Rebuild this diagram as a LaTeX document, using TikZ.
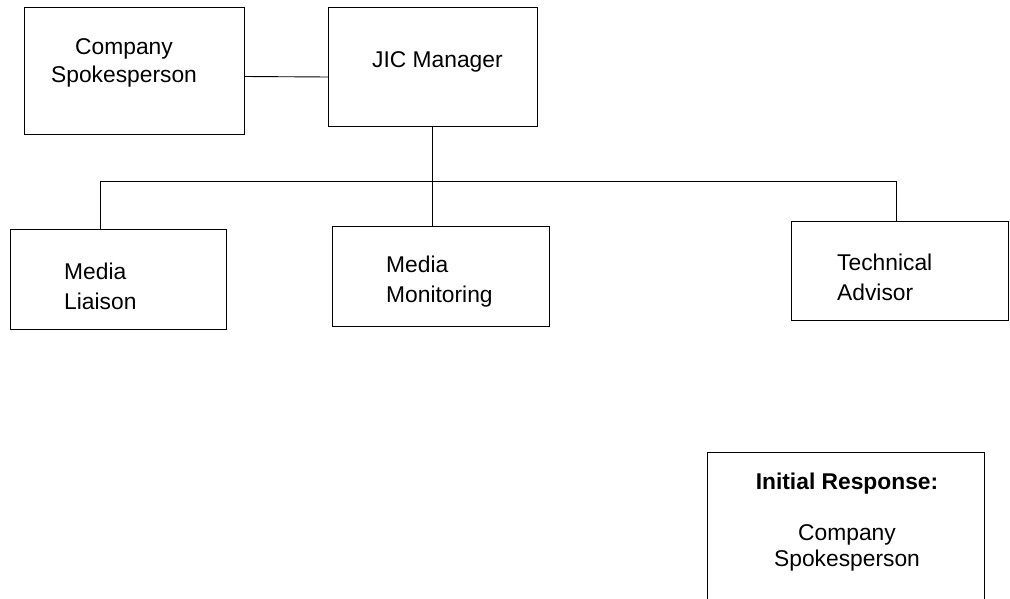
\documentclass[tikz,border=0pt]{standalone}
\usepackage{fontspec}
\setmainfont{Liberation Sans}
\begin{document}
\begin{tikzpicture}[x=1pt,y=-1pt,
  box/.style={draw, line width=0.9pt, inner sep=0pt, outer sep=0pt, anchor=north west},
  txt/.style={font=\fontsize{22.8}{30}\selectfont, inner sep=0pt, align=left, anchor=west},
  ctxt/.style={font=\fontsize{22.8}{28}\selectfont, inner sep=0pt, align=center, anchor=center},
  conn/.style={line width=0.9pt}]
\useasboundingbox (0,0) rectangle (1010,599);
\clip (0,0) rectangle (1010,599);
% boxes
\node[box, minimum width=220, minimum height=127] (cs) at (24,7) {};
\node[box, minimum width=209, minimum height=119] (jic) at (328,7) {};
\node[box, minimum width=216, minimum height=100] (ml) at (10,229) {};
\node[box, minimum width=217, minimum height=100] (mm) at (332,226) {};
\node[box, minimum width=217, minimum height=99] (ta) at (791,221) {};
\node[box, minimum width=277, minimum height=200] (ir) at (707,452) {};
% texts
\node[ctxt] (cst) at (124,63) {Company\\Spokesperson};
\node[txt] (jict) at (372,62) {JIC Manager};
\node[txt] (mlt) at (64,286) {Media\\Liaison};
\node[txt] (mmt) at (386,282) {Media\\Monitoring};
\node[txt] (tat) at (837,277) {Technical\\Advisor};
\node[font=\fontsize{22.8}{28}\selectfont\bfseries, inner sep=0pt] (irh) at (847,484) {Initial Response:};
\node[ctxt, font=\fontsize{22.8}{26}\selectfont] (irt) at (847,548) {Company\\Spokesperson};
% connectors
\coordinate (busL) at (100,181);
\coordinate (busR) at (896,181);
\draw[conn] ([yshift=-6pt]cs.east) -- ([yshift=-10.5pt]jic.west);
\draw[conn] (jic.south) -- (jic.south |- mm.north);
\draw[conn] (busL) -- (busR);
\draw[conn] (busL) -- (busL |- ml.north);
\draw[conn] (busR) -- (busR |- ta.north);
\end{tikzpicture}
\end{document}
